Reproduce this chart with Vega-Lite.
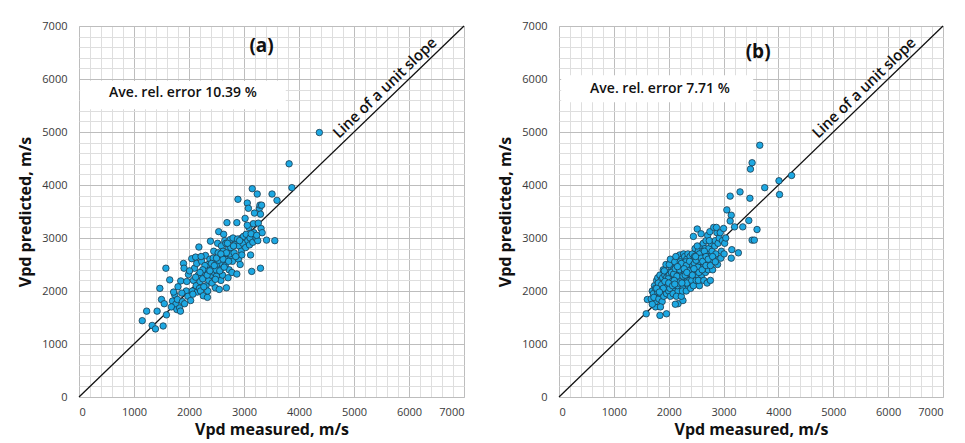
{
  "$schema": "https://vega.github.io/schema/vega-lite/v6.json",
  "padding": {"top": 19, "left": 17, "right": 5, "bottom": 3},
  "spacing": 31,
  "background": "white",
  "config": {
    "view": {"stroke": "#c9d5e3", "strokeWidth": 1},
    "font": "Open Sans",
    "axis": {
      "ticks": false, "domain": false, "labelFont": "Open Sans", "labelFontSize": 11, "labelColor": "#3a3a3a", "labelOverlap": false,
      "titleFont": "Open Sans", "titleFontSize": 16, "titleFontWeight": "bold", "titleColor": "#111111"
    },
    "axisX": {"titlePadding": 4, "labelPadding": 9},
    "axisY": {"titlePadding": 8, "labelPadding": 12}
  },
  "datasets": {
    "a": [
      {"m":1150,"p":1440},{"m":1230,"p":1620},{"m":1330,"p":1350},{"m":1390,"p":1285},{"m":1420,"p":1620},{"m":1470,"p":2050},{"m":1500,"p":1840},{"m":1530,"p":1340},{"m":1550,"p":1760},{"m":1590,"p":1550},{"m":1580,"p":2430},
      {"m":1650,"p":2210},{"m":1700,"p":1810},{"m":1740,"p":1930},{"m":1720,"p":1980},{"m":1760,"p":1750},{"m":1680,"p":1700},{"m":1790,"p":1840},{"m":1800,"p":2080},{"m":1780,"p":1650},
      {"m":1830,"p":1680},{"m":1845,"p":1620},{"m":1850,"p":2190},{"m":1880,"p":1800},{"m":1900,"p":2520},{"m":1910,"p":2430},{"m":1920,"p":1760},{"m":1950,"p":2000},{"m":1960,"p":2180},{"m":1980,"p":1900},{"m":1870,"p":1960},{"m":1990,"p":2310},
      {"m":2030,"p":1820},{"m":2050,"p":2610},{"m":2060,"p":2000},{"m":2080,"p":2200},{"m":2100,"p":2430},{"m":2120,"p":2640},{"m":2130,"p":2100},{"m":2150,"p":1980},{"m":2170,"p":2300},{"m":2180,"p":2830},{"m":2190,"p":2050},{"m":2200,"p":2180},{"m":2010,"p":2380},{"m":2070,"p":1940},{"m":2140,"p":2520},
      {"m":2210,"p":2000},{"m":2230,"p":2560},{"m":2250,"p":2230},{"m":2260,"p":1910},{"m":2280,"p":2350},{"m":2300,"p":2670},{"m":2310,"p":2100},{"m":2320,"p":2440},{"m":2335,"p":1880},{"m":2340,"p":2000},{"m":2360,"p":2200},{"m":2380,"p":2600},{"m":2390,"p":2940},{"m":2400,"p":2300},{"m":2220,"p":2650},{"m":2270,"p":2080},{"m":2350,"p":2500},{"m":2290,"p":2480},
      {"m":2420,"p":2150},{"m":2430,"p":2450},{"m":2450,"p":2750},{"m":2460,"p":2350},{"m":2470,"p":2580},{"m":2480,"p":2060},{"m":2500,"p":2280},{"m":2510,"p":2500},{"m":2520,"p":2900},{"m":2540,"p":3120},{"m":2550,"p":2030},{"m":2560,"p":2650},{"m":2570,"p":2400},{"m":2580,"p":2200},{"m":2590,"p":2850},{"m":2600,"p":2520},{"m":2440,"p":2620},{"m":2530,"p":2720},{"m":2490,"p":2400},
      {"m":2610,"p":2300},{"m":2630,"p":3070},{"m":2640,"p":2700},{"m":2650,"p":2950},{"m":2660,"p":2480},{"m":2680,"p":2060},{"m":2690,"p":3290},{"m":2700,"p":2600},{"m":2710,"p":2250},{"m":2720,"p":2800},{"m":2730,"p":2400},{"m":2750,"p":2970},{"m":2760,"p":2650},{"m":2780,"p":2350},{"m":2790,"p":2560},{"m":2800,"p":3000},{"m":2620,"p":2750},{"m":2670,"p":2900},{"m":2740,"p":2700},
      {"m":2820,"p":2720},{"m":2840,"p":2880},{"m":2870,"p":2320},{"m":2870,"p":3290},{"m":2890,"p":3730},{"m":2900,"p":2600},{"m":2910,"p":2850},{"m":2930,"p":2500},{"m":2940,"p":2990},{"m":2950,"p":2750},{"m":2960,"p":2680},{"m":2980,"p":2900},{"m":2990,"p":3030},{"m":2850,"p":2650},{"m":2880,"p":2980},
      {"m":3020,"p":3370},{"m":3030,"p":2820},{"m":3040,"p":3070},{"m":3060,"p":3660},{"m":3070,"p":2950},{"m":3080,"p":3560},{"m":3090,"p":3200},{"m":3100,"p":2870},{"m":3110,"p":3000},{"m":3120,"p":2680},{"m":3140,"p":2370},{"m":3150,"p":3930},{"m":3160,"p":2920},{"m":3170,"p":3270},{"m":3180,"p":3100},{"m":3190,"p":3470},{"m":3060,"p":3240},{"m":3130,"p":3080},
      {"m":3220,"p":3000},{"m":3240,"p":3830},{"m":3250,"p":2950},{"m":3260,"p":3280},{"m":3280,"p":3560},{"m":3290,"p":3620},{"m":3300,"p":2430},{"m":3300,"p":3450},{"m":3310,"p":3180},{"m":3320,"p":3620},{"m":3330,"p":3100},{"m":3410,"p":2960},{"m":3510,"p":3830},{"m":3560,"p":2950},{"m":3600,"p":3710},{"m":3230,"p":3050},
      {"m":3820,"p":4400},{"m":3870,"p":3950},{"m":4370,"p":4990},
      {"m":2250,"p":2400},{"m":2330,"p":2300},{"m":2410,"p":2520},{"m":2460,"p":2480},{"m":2540,"p":2580},{"m":2620,"p":2600},{"m":2680,"p":2720},{"m":2760,"p":2820},{"m":2810,"p":2850},{"m":2920,"p":2950},{"m":2380,"p":2380},{"m":2500,"p":2620},{"m":2580,"p":2700},{"m":2700,"p":2900},{"m":2480,"p":2220},{"m":2560,"p":2380},{"m":2640,"p":2450},{"m":2720,"p":2560},{"m":2200,"p":2350},{"m":2120,"p":2260}
    ],
    "b": [
      {"m":3660,"p":4750},{"m":3520,"p":4420},{"m":3490,"p":4300},{"m":4240,"p":4180},{"m":4010,"p":4080},{"m":4020,"p":3820},{"m":3750,"p":3950},{"m":3300,"p":3870},{"m":3120,"p":3790},{"m":3480,"p":3750},{"m":3060,"p":3530},{"m":3140,"p":3430},{"m":3120,"p":3320},{"m":3460,"p":3330},{"m":3200,"p":3210},{"m":3350,"p":3210},{"m":3610,"p":3160},{"m":3520,"p":2960},{"m":3560,"p":2960},{"m":3150,"p":2780},{"m":3270,"p":2720},{"m":3140,"p":2620},
      {"m":1610,"p":1840},{"m":1590,"p":1570},{"m":1840,"p":1540},{"m":1960,"p":1570},{"m":1760,"p":1700},{"m":2170,"p":1760},{"m":2260,"p":1820},
      {"m":1680,"p":1850},{"m":1700,"p":2000},{"m":1720,"p":1950},{"m":1740,"p":2100},{"m":1760,"p":1800},{"m":1780,"p":2200},{"m":1790,"p":1900},{"m":1700,"p":1750},{"m":1730,"p":1880},{"m":1760,"p":2050},{"m":1800,"p":2250},{"m":1800,"p":1980},
      {"m":1820,"p":1850},{"m":1830,"p":2100},{"m":1840,"p":2300},{"m":1850,"p":1950},{"m":1860,"p":2200},{"m":1870,"p":2050},{"m":1880,"p":1800},{"m":1890,"p":2250},{"m":1900,"p":2400},{"m":1850,"p":1700},{"m":1810,"p":2150},{"m":1880,"p":2000},
      {"m":1910,"p":1900},{"m":1920,"p":2150},{"m":1930,"p":2300},{"m":1940,"p":2050},{"m":1950,"p":2500},{"m":1960,"p":1950},{"m":1970,"p":2200},{"m":1980,"p":2350},{"m":1990,"p":2100},{"m":2000,"p":2000},{"m":1920,"p":2380},{"m":1960,"p":2250},
      {"m":2010,"p":2300},{"m":2020,"p":2150},{"m":2030,"p":1900},{"m":2040,"p":2450},{"m":2050,"p":2250},{"m":2060,"p":2050},{"m":2070,"p":2380},{"m":2080,"p":2200},{"m":2090,"p":2550},{"m":2100,"p":2000},{"m":2010,"p":2500},{"m":2050,"p":2350},{"m":2080,"p":1950},{"m":2030,"p":2600},
      {"m":2110,"p":2300},{"m":2120,"p":1750},{"m":2130,"p":2450},{"m":2140,"p":2150},{"m":2150,"p":2600},{"m":2160,"p":2350},{"m":2170,"p":2000},{"m":2180,"p":2500},{"m":2190,"p":2250},{"m":2200,"p":2680},{"m":2110,"p":2550},{"m":2140,"p":1900},{"m":2160,"p":2100},{"m":2190,"p":2400},{"m":2130,"p":2650},
      {"m":2210,"p":2200},{"m":2220,"p":2450},{"m":2230,"p":1900},{"m":2240,"p":2600},{"m":2250,"p":2350},{"m":2260,"p":2050},{"m":2270,"p":2700},{"m":2280,"p":2250},{"m":2290,"p":2500},{"m":2300,"p":2150},{"m":2210,"p":2550},{"m":2250,"p":2000},{"m":2270,"p":2400},{"m":2230,"p":2300},{"m":2290,"p":2650},
      {"m":2310,"p":2400},{"m":2320,"p":2000},{"m":2330,"p":2600},{"m":2340,"p":2250},{"m":2350,"p":2700},{"m":2360,"p":2100},{"m":2370,"p":2500},{"m":2380,"p":2300},{"m":2390,"p":2650},{"m":2400,"p":2050},{"m":2310,"p":2550},{"m":2350,"p":2450},{"m":2380,"p":2200},{"m":2330,"p":2150},{"m":2400,"p":2400},
      {"m":2410,"p":2550},{"m":2420,"p":2200},{"m":2430,"p":2700},{"m":2440,"p":2400},{"m":2450,"p":2100},{"m":2460,"p":2600},{"m":2470,"p":2300},{"m":2480,"p":2800},{"m":2490,"p":2450},{"m":2500,"p":2200},{"m":2450,"p":3030},{"m":2420,"p":2500},{"m":2470,"p":2650},{"m":2500,"p":2350},
      {"m":2510,"p":2600},{"m":2520,"p":3170},{"m":2530,"p":2300},{"m":2540,"p":2750},{"m":2550,"p":2450},{"m":2560,"p":2100},{"m":2570,"p":2650},{"m":2580,"p":2850},{"m":2590,"p":2500},{"m":2600,"p":2300},{"m":2590,"p":3080},{"m":2520,"p":2850},{"m":2560,"p":2550},{"m":2540,"p":2200},
      {"m":2610,"p":2700},{"m":2620,"p":2450},{"m":2630,"p":2900},{"m":2640,"p":2200},{"m":2650,"p":2600},{"m":2660,"p":2800},{"m":2670,"p":2350},{"m":2680,"p":2950},{"m":2690,"p":2550},{"m":2700,"p":2150},{"m":2620,"p":2750},{"m":2660,"p":2500},{"m":2700,"p":2700},
      {"m":2710,"p":3050},{"m":2720,"p":2400},{"m":2730,"p":2800},{"m":2740,"p":2650},{"m":2750,"p":3120},{"m":2760,"p":2200},{"m":2770,"p":2900},{"m":2780,"p":2550},{"m":2790,"p":2750},{"m":2800,"p":2400},{"m":2740,"p":2950},
      {"m":2820,"p":3200},{"m":2830,"p":2650},{"m":2840,"p":2850},{"m":2850,"p":2950},{"m":2860,"p":2700},{"m":2880,"p":3100},{"m":2890,"p":2500},{"m":2900,"p":2900},{"m":2870,"p":3200},
      {"m":2920,"p":3000},{"m":2940,"p":3100},{"m":2960,"p":2750},{"m":2980,"p":2950},{"m":3000,"p":3180},{"m":3020,"p":2900},{"m":3040,"p":3000},{"m":2950,"p":2620},{"m":3010,"p":2700},
      {"m":1950,"p":2120},{"m":1990,"p":2230},{"m":2020,"p":2050},{"m":2060,"p":2180},{"m":2090,"p":2320},{"m":2120,"p":2420},{"m":2150,"p":2280},{"m":2180,"p":2150},{"m":2200,"p":2400},{"m":2230,"p":2520},{"m":2260,"p":2280},{"m":2290,"p":2380},{"m":2320,"p":2480},{"m":2350,"p":2330},{"m":2380,"p":2560},{"m":2410,"p":2350},{"m":2440,"p":2480},{"m":2470,"p":2520},{"m":2500,"p":2580},{"m":2530,"p":2450},{"m":2560,"p":2700},{"m":2590,"p":2620},{"m":2620,"p":2560},{"m":2650,"p":2750},{"m":2680,"p":2650},{"m":1870,"p":2120},{"m":1900,"p":2050},{"m":1930,"p":2180},{"m":2000,"p":2150},{"m":2070,"p":2100},{"m":2100,"p":2200},{"m":2160,"p":2460},{"m":2240,"p":2150},{"m":2300,"p":2300},{"m":2360,"p":2380},{"m":2430,"p":2300},{"m":2490,"p":2650},{"m":2550,"p":2350},{"m":2610,"p":2400},{"m":2680,"p":2480},{"m":2720,"p":2600},{"m":2760,"p":2480},{"m":2800,"p":2650},{"m":2850,"p":2550},{"m":1780,"p":2050},{"m":1830,"p":1980},{"m":2110,"p":2130},{"m":2280,"p":2420},{"m":2330,"p":2350},{"m":2460,"p":2420}
    ]
  },
  "hconcat": [
    {
      "width": 385,
      "height": 371,
      "layer": [
        {
          "data": {"values": [{}]},
          "mark": {"type": "rect", "color": "white"},
          "encoding": {
            "x": {"datum": 20, "type": "quantitative", "title": "Vpd measured, m/s", "scale": {"domain": [0, 7000], "nice": false}, "axis": {"grid": true, "tickCount": 35, "format": "d", "labelExpr": "datum.value % 1000 === 0 ? datum.label : ''", "gridColor": {"condition": {"test": "datum.value % 1000 === 0", "value": "#bdbdbd"}, "value": "#dedede"}}},
            "x2": {"datum": 3760},
            "y": {"datum": 5430, "type": "quantitative", "title": "Vpd predicted, m/s", "scale": {"domain": [0, 7000], "nice": false}, "axis": {"grid": true, "tickCount": 35, "format": "d", "labelExpr": "datum.value % 1000 === 0 ? datum.label : ''", "gridColor": {"condition": {"test": "datum.value % 1000 === 0", "value": "#bdbdbd"}, "value": "#dedede"}}},
            "y2": {"datum": 5960}
          }
        },
        {
          "data": {"values": [{}]},
          "mark": {"type": "rule", "color": "#111111", "strokeWidth": 1.3},
          "encoding": {
            "x": {"datum": 0, "type": "quantitative", "title": "Vpd measured, m/s", "axis": {"grid": true, "tickCount": 35, "format": "d", "labelExpr": "datum.value % 1000 === 0 ? datum.label : ''", "gridColor": {"condition": {"test": "datum.value % 1000 === 0", "value": "#bdbdbd"}, "value": "#dedede"}}},
            "x2": {"datum": 7000},
            "y": {"datum": 0, "type": "quantitative", "title": "Vpd predicted, m/s", "axis": {"grid": true, "tickCount": 35, "format": "d", "labelExpr": "datum.value % 1000 === 0 ? datum.label : ''", "gridColor": {"condition": {"test": "datum.value % 1000 === 0", "value": "#bdbdbd"}, "value": "#dedede"}}},
            "y2": {"datum": 7000}
          }
        },
        {
          "data": {"name": "a"},
          "mark": {"type": "circle", "size": 42, "fill": "#1da8e2", "fillOpacity": 1, "stroke": "#1c3a4c", "strokeWidth": 0.8},
          "encoding": {
            "x": {"field": "m", "type": "quantitative", "title": "Vpd measured, m/s", "axis": {"grid": true, "tickCount": 35, "format": "d", "labelExpr": "datum.value % 1000 === 0 ? datum.label : ''", "gridColor": {"condition": {"test": "datum.value % 1000 === 0", "value": "#bdbdbd"}, "value": "#dedede"}}},
            "y": {"field": "p", "type": "quantitative", "title": "Vpd predicted, m/s", "axis": {"grid": true, "tickCount": 35, "format": "d", "labelExpr": "datum.value % 1000 === 0 ? datum.label : ''", "gridColor": {"condition": {"test": "datum.value % 1000 === 0", "value": "#bdbdbd"}, "value": "#dedede"}}}
          }
        },
        {
          "data": {"values": [{}]},
          "mark": {"type": "text", "text": "(a)", "fontSize": 19, "fontWeight": "bold", "font": "Open Sans", "color": "#111111"},
          "encoding": {
            "x": {"datum": 3320, "type": "quantitative", "title": "Vpd measured, m/s", "axis": {"grid": true, "tickCount": 35, "format": "d", "labelExpr": "datum.value % 1000 === 0 ? datum.label : ''", "gridColor": {"condition": {"test": "datum.value % 1000 === 0", "value": "#bdbdbd"}, "value": "#dedede"}}},
            "y": {"datum": 6620, "type": "quantitative", "title": "Vpd predicted, m/s", "axis": {"grid": true, "tickCount": 35, "format": "d", "labelExpr": "datum.value % 1000 === 0 ? datum.label : ''", "gridColor": {"condition": {"test": "datum.value % 1000 === 0", "value": "#bdbdbd"}, "value": "#dedede"}}}
          }
        },
        {
          "data": {"values": [{}]},
          "mark": {"type": "text", "text": "Ave. rel. error 10.39 %", "fontSize": 14, "fontWeight": 600, "font": "Open Sans", "color": "#111111"},
          "encoding": {
            "x": {"datum": 1890, "type": "quantitative", "title": "Vpd measured, m/s", "axis": {"grid": true, "tickCount": 35, "format": "d", "labelExpr": "datum.value % 1000 === 0 ? datum.label : ''", "gridColor": {"condition": {"test": "datum.value % 1000 === 0", "value": "#bdbdbd"}, "value": "#dedede"}}},
            "y": {"datum": 5740, "type": "quantitative", "title": "Vpd predicted, m/s", "axis": {"grid": true, "tickCount": 35, "format": "d", "labelExpr": "datum.value % 1000 === 0 ? datum.label : ''", "gridColor": {"condition": {"test": "datum.value % 1000 === 0", "value": "#bdbdbd"}, "value": "#dedede"}}}
          }
        },
        {
          "data": {"values": [{}]},
          "mark": {"type": "text", "text": "Line of a unit slope", "fontSize": 15, "fontWeight": 600, "font": "Open Sans", "color": "#111111", "angle": -44},
          "encoding": {
            "x": {"datum": 5560, "type": "quantitative", "title": "Vpd measured, m/s", "axis": {"grid": true, "tickCount": 35, "format": "d", "labelExpr": "datum.value % 1000 === 0 ? datum.label : ''", "gridColor": {"condition": {"test": "datum.value % 1000 === 0", "value": "#bdbdbd"}, "value": "#dedede"}}},
            "y": {"datum": 5835, "type": "quantitative", "title": "Vpd predicted, m/s", "axis": {"grid": true, "tickCount": 35, "format": "d", "labelExpr": "datum.value % 1000 === 0 ? datum.label : ''", "gridColor": {"condition": {"test": "datum.value % 1000 === 0", "value": "#bdbdbd"}, "value": "#dedede"}}}
          }
        }
      ]
    },
    {
      "width": 384,
      "height": 371,
      "layer": [
        {
          "data": {"values": [{}]},
          "mark": {"type": "rect", "color": "white"},
          "encoding": {
            "x": {"datum": 40, "type": "quantitative", "title": "Vpd measured, m/s", "scale": {"domain": [0, 7000], "nice": false}, "axis": {"grid": true, "tickCount": 35, "format": "d", "labelExpr": "datum.value % 1000 === 0 ? datum.label : ''", "gridColor": {"condition": {"test": "datum.value % 1000 === 0", "value": "#bdbdbd"}, "value": "#dedede"}}},
            "x2": {"datum": 3540},
            "y": {"datum": 5560, "type": "quantitative", "title": "Vpd predicted, m/s", "scale": {"domain": [0, 7000], "nice": false}, "axis": {"grid": true, "tickCount": 35, "format": "d", "labelExpr": "datum.value % 1000 === 0 ? datum.label : ''", "gridColor": {"condition": {"test": "datum.value % 1000 === 0", "value": "#bdbdbd"}, "value": "#dedede"}}},
            "y2": {"datum": 6070}
          }
        },
        {
          "data": {"values": [{}]},
          "mark": {"type": "rule", "color": "#111111", "strokeWidth": 1.3},
          "encoding": {
            "x": {"datum": 0, "type": "quantitative", "title": "Vpd measured, m/s", "axis": {"grid": true, "tickCount": 35, "format": "d", "labelExpr": "datum.value % 1000 === 0 ? datum.label : ''", "gridColor": {"condition": {"test": "datum.value % 1000 === 0", "value": "#bdbdbd"}, "value": "#dedede"}}},
            "x2": {"datum": 7000},
            "y": {"datum": 0, "type": "quantitative", "title": "Vpd predicted, m/s", "axis": {"grid": true, "tickCount": 35, "format": "d", "labelExpr": "datum.value % 1000 === 0 ? datum.label : ''", "gridColor": {"condition": {"test": "datum.value % 1000 === 0", "value": "#bdbdbd"}, "value": "#dedede"}}},
            "y2": {"datum": 7000}
          }
        },
        {
          "data": {"name": "b"},
          "mark": {"type": "circle", "size": 42, "fill": "#1da8e2", "fillOpacity": 1, "stroke": "#1c3a4c", "strokeWidth": 0.8},
          "encoding": {
            "x": {"field": "m", "type": "quantitative", "title": "Vpd measured, m/s", "axis": {"grid": true, "tickCount": 35, "format": "d", "labelExpr": "datum.value % 1000 === 0 ? datum.label : ''", "gridColor": {"condition": {"test": "datum.value % 1000 === 0", "value": "#bdbdbd"}, "value": "#dedede"}}},
            "y": {"field": "p", "type": "quantitative", "title": "Vpd predicted, m/s", "axis": {"grid": true, "tickCount": 35, "format": "d", "labelExpr": "datum.value % 1000 === 0 ? datum.label : ''", "gridColor": {"condition": {"test": "datum.value % 1000 === 0", "value": "#bdbdbd"}, "value": "#dedede"}}}
          }
        },
        {
          "data": {"values": [{}]},
          "mark": {"type": "text", "text": "(b)", "fontSize": 19, "fontWeight": "bold", "font": "Open Sans", "color": "#111111"},
          "encoding": {
            "x": {"datum": 3630, "type": "quantitative", "title": "Vpd measured, m/s", "axis": {"grid": true, "tickCount": 35, "format": "d", "labelExpr": "datum.value % 1000 === 0 ? datum.label : ''", "gridColor": {"condition": {"test": "datum.value % 1000 === 0", "value": "#bdbdbd"}, "value": "#dedede"}}},
            "y": {"datum": 6510, "type": "quantitative", "title": "Vpd predicted, m/s", "axis": {"grid": true, "tickCount": 35, "format": "d", "labelExpr": "datum.value % 1000 === 0 ? datum.label : ''", "gridColor": {"condition": {"test": "datum.value % 1000 === 0", "value": "#bdbdbd"}, "value": "#dedede"}}}
          }
        },
        {
          "data": {"values": [{}]},
          "mark": {"type": "text", "text": "Ave. rel. error 7.71 %", "fontSize": 14, "fontWeight": 600, "font": "Open Sans", "color": "#111111"},
          "encoding": {
            "x": {"datum": 1840, "type": "quantitative", "title": "Vpd measured, m/s", "axis": {"grid": true, "tickCount": 35, "format": "d", "labelExpr": "datum.value % 1000 === 0 ? datum.label : ''", "gridColor": {"condition": {"test": "datum.value % 1000 === 0", "value": "#bdbdbd"}, "value": "#dedede"}}},
            "y": {"datum": 5815, "type": "quantitative", "title": "Vpd predicted, m/s", "axis": {"grid": true, "tickCount": 35, "format": "d", "labelExpr": "datum.value % 1000 === 0 ? datum.label : ''", "gridColor": {"condition": {"test": "datum.value % 1000 === 0", "value": "#bdbdbd"}, "value": "#dedede"}}}
          }
        },
        {
          "data": {"values": [{}]},
          "mark": {"type": "text", "text": "Line of a unit slope", "fontSize": 15, "fontWeight": 600, "font": "Open Sans", "color": "#111111", "angle": -44},
          "encoding": {
            "x": {"datum": 5560, "type": "quantitative", "title": "Vpd measured, m/s", "axis": {"grid": true, "tickCount": 35, "format": "d", "labelExpr": "datum.value % 1000 === 0 ? datum.label : ''", "gridColor": {"condition": {"test": "datum.value % 1000 === 0", "value": "#bdbdbd"}, "value": "#dedede"}}},
            "y": {"datum": 5835, "type": "quantitative", "title": "Vpd predicted, m/s", "axis": {"grid": true, "tickCount": 35, "format": "d", "labelExpr": "datum.value % 1000 === 0 ? datum.label : ''", "gridColor": {"condition": {"test": "datum.value % 1000 === 0", "value": "#bdbdbd"}, "value": "#dedede"}}}
          }
        }
      ]
    }
  ]
}
